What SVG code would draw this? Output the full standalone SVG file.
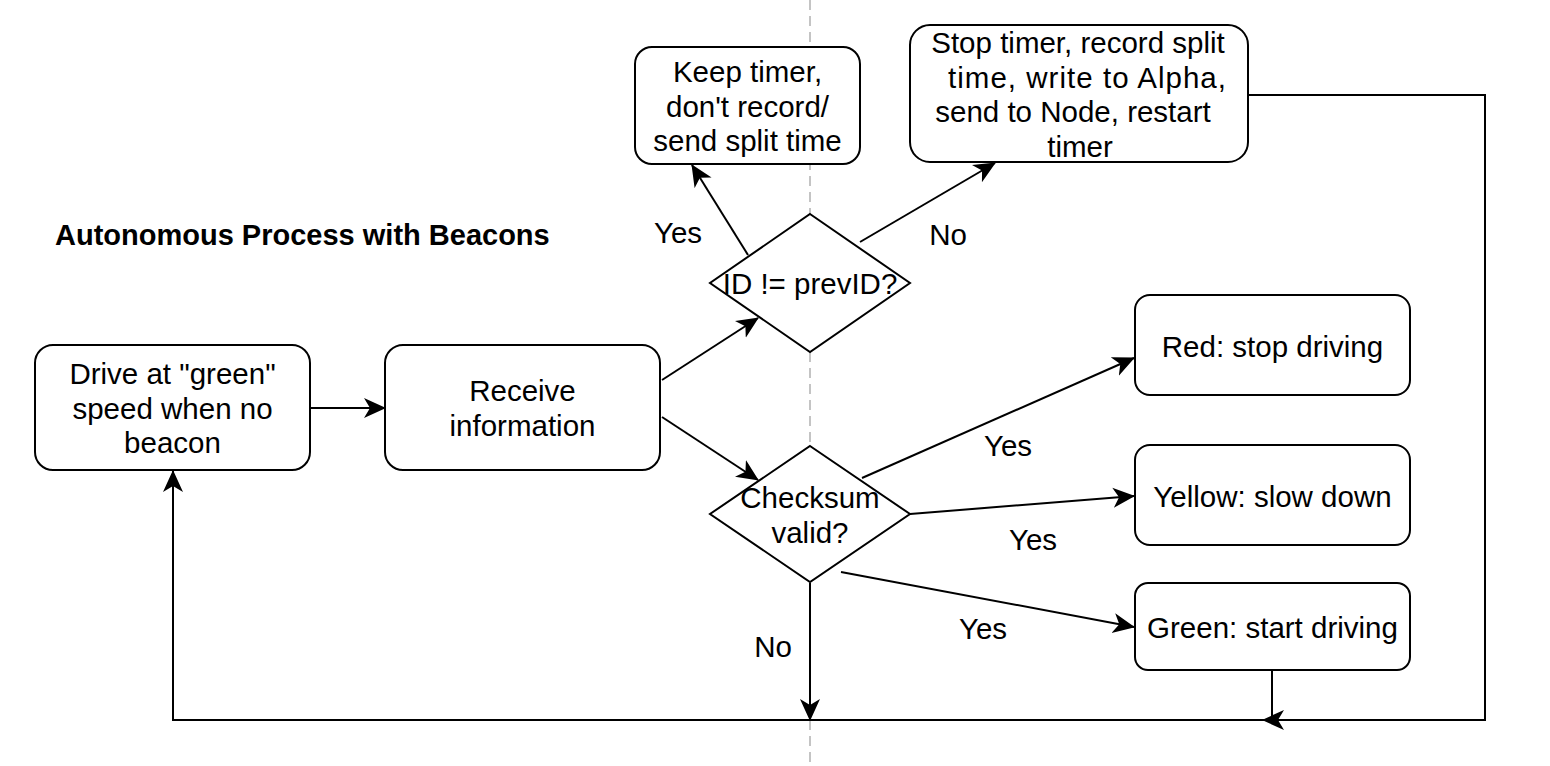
<svg xmlns="http://www.w3.org/2000/svg" width="1550" height="766" viewBox="0 0 1550 766">
<style>
.box{fill:#fff;stroke:#000;stroke-width:2}
.t{font-family:"Liberation Sans",Arial,Helvetica,sans-serif;font-size:29.5px;fill:#000;text-anchor:middle}
.title{font-family:"Liberation Sans",Arial,Helvetica,sans-serif;font-size:29px;font-weight:bold;fill:#000}
.e{fill:none;stroke:#000;stroke-width:2}
.ea{fill:none;stroke:#000;stroke-width:2;marker-end:url(#arr)}
</style>
<defs>
<marker id="arr" markerUnits="userSpaceOnUse" viewBox="0 0 22 22" markerWidth="22" markerHeight="22" refX="21" refY="11" orient="auto">
<path d="M0,1 L22,11 L0,21 L6,11 Z" fill="#000"/>
</marker>
</defs>
<rect width="1550" height="766" fill="#fff"/>
<line x1="810" y1="0" x2="810" y2="766" stroke="#c4c4c4" stroke-width="2" stroke-dasharray="10 6"/>
<text class="title" x="55" y="245">Autonomous Process with Beacons</text>
<g id="connectors">
<path class="ea" d="M310,408 L385,408"/>
<path class="ea" d="M662,380 L758,318"/>
<path class="ea" d="M662,417 L758,480"/>
<path class="ea" d="M748,255 L692,165"/>
<path class="ea" d="M860,242 L995,163"/>
<path class="ea" d="M862,478 L1134,358"/>
<path class="ea" d="M910,514 L1134,496"/>
<path class="ea" d="M841,572 L1134,627"/>
<path class="ea" d="M810,583 L810,720"/>
<path class="ea" d="M1248,95 L1485,95 L1485,720 L1263,720"/>
<path class="ea" d="M1272,670 L1272,720 L173,720 L173,471"/>
<text class="t" x="678" y="243">Yes</text>
<text class="t" x="948" y="245">No</text>
<text class="t" x="1008" y="456">Yes</text>
<text class="t" x="1033" y="550">Yes</text>
<text class="t" x="983" y="639">Yes</text>
<text class="t" x="773" y="657">No</text>
</g>
<g id="drive">
<rect class="box" x="35" y="345" width="275" height="125" rx="18"/>
<text class="t" x="172.5" y="384">Drive at "green"</text>
<text class="t" x="172.5" y="418.5">speed when no</text>
<text class="t" x="172.5" y="453">beacon</text>
</g>
<g id="receive">
<rect class="box" x="385" y="345" width="275" height="125" rx="18"/>
<text class="t" x="522.5" y="401">Receive</text>
<text class="t" x="522.5" y="435.5">information</text>
</g>
<g id="keep">
<rect class="box" x="635" y="47" width="225" height="117" rx="17"/>
<text class="t" x="747.5" y="82">Keep timer,</text>
<text class="t" x="747.5" y="116.5">don't record/</text>
<text class="t" x="747.5" y="151">send split time</text>
</g>
<g id="stop">
<rect class="box" x="910" y="25" width="338" height="137" rx="20"/>
<text class="t" x="1078" y="53">Stop timer, record split</text>
<text class="t" x="1087" y="87.5" textLength="278" lengthAdjust="spacing">time, write to Alpha,</text>
<text class="t" x="1073" y="122">send to Node, restart</text>
<text class="t" x="1080" y="156.5">timer</text>
</g>
<g id="idcheck">
<polygon class="box" points="810,214 910,283 810,352 710,283"/>
<text class="t" x="810" y="294">ID != prevID?</text>
</g>
<g id="checksum">
<polygon class="box" points="810,446 910,514 810,582 710,514"/>
<text class="t" x="810" y="508">Checksum</text>
<text class="t" x="810" y="542.5">valid?</text>
</g>
<g id="red">
<rect class="box" x="1135" y="295" width="275" height="100" rx="15"/>
<text class="t" x="1272.5" y="356.5">Red: stop driving</text>
</g>
<g id="yellow">
<rect class="box" x="1135" y="445" width="275" height="100" rx="15"/>
<text class="t" x="1272.5" y="506.5">Yellow: slow down</text>
</g>
<g id="green">
<rect class="box" x="1135" y="583" width="275" height="87" rx="13"/>
<text class="t" x="1272.5" y="638">Green: start driving</text>
</g>
</svg>
